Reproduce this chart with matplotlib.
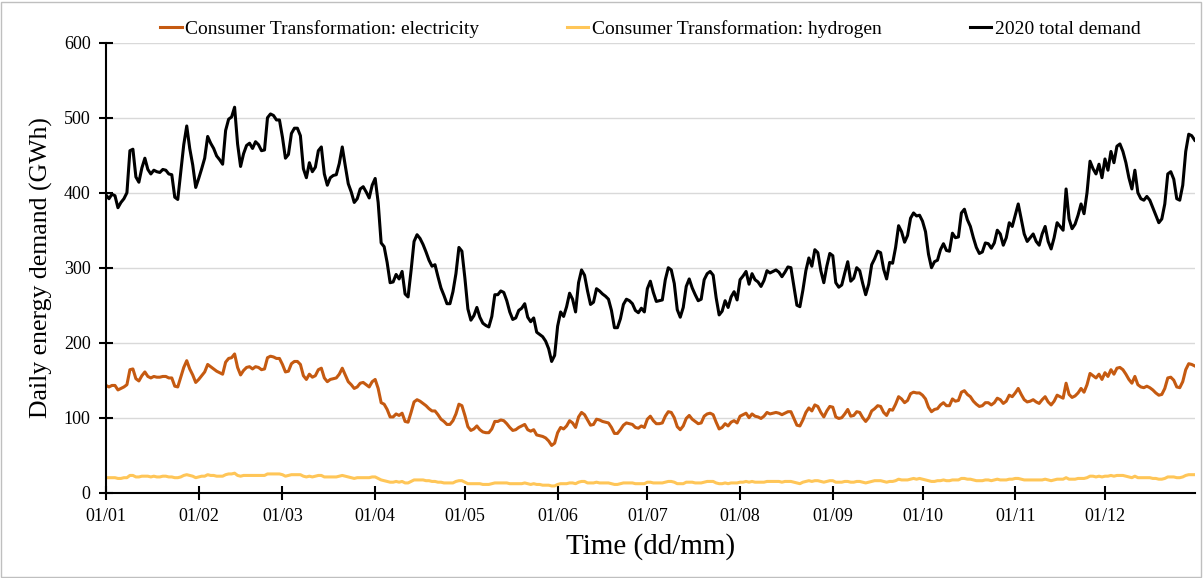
import numpy as np
import pandas as pd
import matplotlib
matplotlib.use('Agg')
import matplotlib.pyplot as plt
from matplotlib.patches import Rectangle

plt.rcParams['font.family'] = ['Liberation Serif', 'DejaVu Serif']

# daily values (GWh), starting 01/01
total_demand = [
    397, 392, 398, 396, 380, 387, 392, 400, 456, 458,
    421, 414, 433, 446, 431, 425, 430, 428, 427, 431,
    430, 425, 424, 394, 391, 428, 464, 489, 459, 437,
    407, 419, 432, 446, 475, 466, 459, 449, 444, 438,
    483, 498, 501, 514, 465, 435, 452, 463, 466, 459,
    468, 464, 456, 457, 500, 505, 503, 497, 497, 474,
    446, 451, 479, 486, 486, 476, 432, 420, 440, 428,
    434, 456, 461, 425, 410, 420, 423, 424, 439, 461,
    436, 412, 401, 387, 392, 405, 408, 401, 393, 410,
    419, 387, 333, 328, 307, 280, 281, 291, 285, 295,
    265, 261, 296, 335, 344, 339, 331, 321, 310, 302,
    304, 288, 273, 263, 252, 252, 268, 292, 327, 322,
    286, 245, 230, 236, 247, 234, 226, 223, 221, 235,
    264, 264, 269, 267, 256, 241, 231, 233, 243, 246,
    252, 234, 228, 233, 214, 211, 208, 202, 192, 175,
    183, 222, 241, 235, 248, 266, 258, 241, 280, 297,
    290, 269, 251, 254, 272, 269, 265, 262, 258, 243,
    220, 220, 232, 251, 258, 256, 252, 243, 240, 246,
    241, 272, 282, 267, 255, 256, 257, 284, 300, 297,
    279, 244, 234, 247, 275, 285, 273, 264, 256, 258,
    284, 292, 295, 290, 260, 237, 242, 256, 247, 261,
    268, 257, 284, 289, 295, 278, 292, 284, 281, 275,
    283, 296, 293, 295, 297, 294, 288, 294, 301, 300,
    275, 250, 248, 270, 296, 313, 302, 324, 320, 296,
    280, 302, 319, 316, 280, 274, 277, 293, 308, 282,
    286, 300, 296, 279, 264, 278, 304, 312, 322, 320,
    298, 285, 307, 306, 327, 356, 348, 334, 343, 366,
    373, 369, 370, 362, 348, 318, 300, 308, 310, 324,
    332, 323, 322, 346, 340, 341, 373, 378, 364, 355,
    340, 327, 319, 321, 333, 332, 326, 333, 350, 345,
    330, 340, 360, 355, 370, 385, 365, 345, 335, 340,
    345, 335, 330, 345, 355, 335, 325, 340, 360, 355,
    350, 405, 365, 352, 358, 370, 385, 372, 400, 442,
    432, 425, 438, 420, 445, 430, 455, 440, 462, 465,
    455, 440, 420, 405, 430, 400, 392, 390, 395, 390,
    380, 370, 360, 365, 385, 425, 428, 418, 392, 390,
    410, 455, 478, 476, 470,
]

electricity = [
    143, 141, 143, 143, 137, 139, 141, 144, 164, 165,
    152, 149, 156, 161, 155, 153, 155, 154, 154, 155,
    155, 153, 153, 142, 141, 154, 167, 176, 165, 157,
    147, 151, 156, 161, 171, 168, 165, 162, 160, 158,
    174, 179, 180, 185, 167, 157, 163, 167, 168, 165,
    168, 167, 164, 165, 180, 182, 181, 179, 179, 171,
    161, 162, 172, 175, 175, 171, 156, 151, 158, 154,
    156, 164, 166, 153, 148, 151, 152, 153, 158, 166,
    157, 148, 144, 139, 141, 146, 147, 144, 141, 148,
    151, 139, 120, 118, 111, 101, 101, 105, 103, 106,
    95, 94, 107, 121, 124, 122, 119, 116, 112, 109,
    109, 104, 98, 95, 91, 91, 96, 105, 118, 116,
    103, 88, 83, 85, 89, 84, 81, 80, 80, 85,
    95, 95, 97, 96, 92, 87, 83, 84, 87, 89,
    91, 84, 82, 84, 77, 76, 75, 73, 69, 63,
    66, 80, 87, 85, 89, 96, 93, 87, 101, 107,
    104, 97, 90, 91, 98, 97, 95, 94, 93, 87,
    79, 79, 84, 90, 93, 92, 91, 87, 86, 89,
    87, 98, 102, 96, 92, 92, 93, 102, 108, 107,
    100, 88, 84, 89, 99, 103, 98, 95, 92, 93,
    102, 105, 106, 104, 94, 85, 87, 92, 89, 94,
    96, 93, 102, 104, 106, 100, 105, 102, 101, 99,
    102, 107, 105, 106, 107, 106, 104, 106, 108, 108,
    99, 90, 89, 97, 107, 113, 109, 117, 115, 107,
    101, 109, 115, 114, 101, 99, 100, 105, 111, 102,
    103, 108, 107, 100, 95, 100, 109, 112, 116, 115,
    107, 103, 111, 110, 118, 128, 125, 120, 123, 132,
    134, 133, 133, 130, 125, 114, 108, 111, 112, 117,
    120, 116, 116, 125, 122, 123, 134, 136, 131, 128,
    122, 118, 115, 116, 120, 120, 117, 120, 126, 124,
    119, 122, 130, 128, 133, 139, 131, 124, 121, 122,
    124, 121, 119, 124, 128, 121, 117, 122, 130, 128,
    126, 146, 131, 127, 129, 133, 139, 134, 144, 159,
    156, 153, 158, 151, 160, 155, 164, 158, 166, 167,
    164, 158, 151, 146, 155, 144, 141, 140, 142, 140,
    137, 133, 130, 131, 139, 153, 154, 150, 141, 140,
    148, 164, 172, 171, 169,
]

hydrogen = [
    20, 20, 20, 20, 19, 19, 20, 20, 23, 23,
    21, 21, 22, 22, 22, 21, 22, 21, 21, 22,
    22, 21, 21, 20, 20, 21, 23, 24, 23, 22,
    20, 21, 22, 22, 24, 23, 23, 22, 22, 22,
    24, 25, 25, 26, 23, 22, 23, 23, 23, 23,
    23, 23, 23, 23, 25, 25, 25, 25, 25, 24,
    22, 23, 24, 24, 24, 24, 22, 21, 22, 21,
    22, 23, 23, 21, 21, 21, 21, 21, 22, 23,
    22, 21, 20, 19, 20, 20, 20, 20, 20, 21,
    21, 19, 17, 16, 15, 14, 14, 15, 14, 15,
    13, 13, 15, 17, 17, 17, 17, 16, 16, 15,
    15, 14, 14, 13, 13, 13, 13, 15, 16, 16,
    14, 12, 12, 12, 12, 12, 11, 11, 11, 12,
    13, 13, 13, 13, 13, 12, 12, 12, 12, 12,
    13, 12, 11, 12, 11, 11, 10, 10, 10, 9,
    9, 11, 12, 12, 12, 13, 13, 12, 14, 15,
    15, 13, 13, 13, 14, 13, 13, 13, 13, 12,
    11, 11, 12, 13, 13, 13, 13, 12, 12, 12,
    12, 14, 14, 13, 13, 13, 13, 14, 15, 15,
    14, 12, 12, 12, 14, 14, 14, 13, 13, 13,
    14, 15, 15, 15, 13, 12, 12, 13, 12, 13,
    13, 13, 14, 14, 15, 14, 15, 14, 14, 14,
    14, 15, 15, 15, 15, 15, 14, 15, 15, 15,
    14, 13, 12, 14, 15, 16, 15, 16, 16, 15,
    14, 15, 16, 16, 14, 14, 14, 15, 15, 14,
    14, 15, 15, 14, 13, 14, 15, 16, 16, 16,
    15, 14, 15, 15, 16, 18, 17, 17, 17, 18,
    19, 18, 19, 18, 17, 16, 15, 15, 16, 16,
    17, 16, 16, 17, 17, 17, 19, 19, 18, 18,
    17, 16, 16, 16, 17, 17, 16, 17, 18, 17,
    17, 17, 18, 18, 19, 19, 18, 17, 17, 17,
    17, 17, 17, 17, 18, 17, 16, 17, 18, 18,
    18, 20, 18, 18, 18, 19, 19, 19, 20, 22,
    22, 21, 22, 21, 22, 22, 23, 22, 23, 23,
    23, 22, 21, 20, 22, 20, 20, 20, 20, 20,
    19, 19, 18, 18, 19, 21, 21, 21, 20, 20,
    21, 23, 24, 24, 24,
]

month_labels = ['01/01', '01/02', '01/03', '01/04', '01/05', '01/06',
                '01/07', '01/08', '01/09', '01/10', '01/11', '01/12']

days = pd.date_range('2019-01-01', '2019-12-31', freq='D')
month_pos = [days.get_loc(d) for d in pd.date_range('2019-01-01', periods=12, freq='MS')]

fig = plt.figure(figsize=(12.03, 5.78), dpi=100)
ax = fig.add_axes([0.0881, 0.1476, 0.905, 0.7785])

ax.plot(np.arange(len(electricity)), electricity, color='#C55A11', lw=2.2,
        label='Consumer Transformation: electricity')
ax.plot(np.arange(len(hydrogen)), hydrogen, color='#FFC658', lw=2.2,
        label='Consumer Transformation: hydrogen')
ax.plot(np.arange(len(total_demand)), total_demand, color='black', lw=2.2,
        label='2020 total demand')

ax.set_xlim(0, len(days) - 1)
ax.set_ylim(0, 600)
ax.set_yticks(range(0, 601, 100))
ax.set_xticks(month_pos)
ax.set_xticklabels(month_labels)
ax.grid(axis='y', color='#D9D9D9', lw=1)
ax.set_axisbelow(True)
for s in ['top', 'right']:
    ax.spines[s].set_visible(False)
ax.spines['left'].set_linewidth(1.5)
ax.spines['bottom'].set_linewidth(1.5)
ax.tick_params(direction='inout', length=10, width=1.5, labelsize=13, pad=6)

ax.set_ylabel('Daily energy demand (GWh)', fontsize=18.5, labelpad=8)
ax.set_xlabel('Time (dd/mm)', fontsize=21, labelpad=6)

ax.legend(loc='lower center', bbox_to_anchor=(0.5, 0.985), ncol=3, frameon=False,
          fontsize=14, handlelength=1.1, handletextpad=0.2, columnspacing=4.5,
          borderaxespad=0.2)

fig.patches.append(Rectangle((0.001, 0.002), 0.997, 0.995, transform=fig.transFigure,
                             fill=False, edgecolor='#BFBFBF', lw=1))

fig.savefig('out.png', dpi=100)
